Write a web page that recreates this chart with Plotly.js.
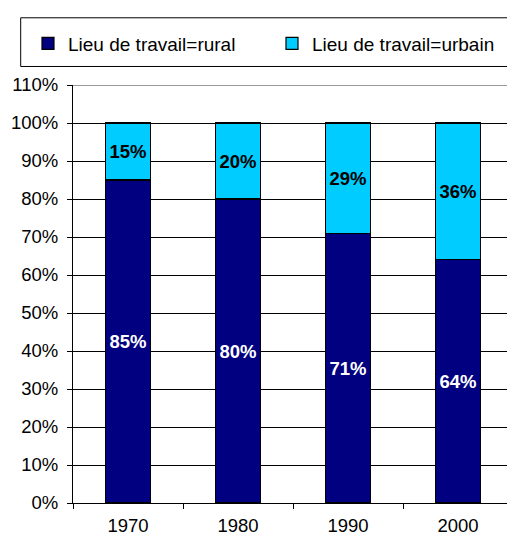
<!DOCTYPE html>
<html>
<head>
<meta charset="utf-8">
<script src="https://cdn.plot.ly/plotly-3.0.1.min.js"></script>
<style>
  html, body { margin: 0; padding: 0; background: #fff; }
  #chart { width: 507px; height: 536px; }
</style>
</head>
<body>
<div id="chart"></div>
<script>
const years = ['1970', '1980', '1990', '2000'];
const rural = [85, 80, 71, 64];
const urbain = [15, 20, 29, 36];
const ruralName = 'Lieu de travail=rural';
const urbainName = 'Lieu de travail=urbain';
const yTickVals = [0, 10, 20, 30, 40, 50, 60, 70, 80, 90, 100, 110];

const FONT = '"Liberation Sans", Arial, sans-serif';

const traces = [
  {
    type: 'bar', name: ruralName, x: years, y: rural,
    text: rural.map(v => v + '%'), textposition: 'inside', insidetextanchor: 'middle',
    textfont: { family: FONT, size: 18.5, color: '#ffffff', weight: 'bold' },
    marker: { color: '#000080', line: { color: '#000000', width: 1.2 } },
    legendwidth: 199,
    hoverinfo: 'skip'
  },
  {
    type: 'bar', name: urbainName, x: years, y: urbain,
    text: urbain.map(v => v + '%'), textposition: 'inside', insidetextanchor: 'middle',
    textfont: { family: FONT, size: 18.5, color: '#000000', weight: 'bold' },
    marker: { color: '#00CCFF', line: { color: '#000000', width: 1.2 } },
    legendwidth: 182,
    hoverinfo: 'skip'
  }
];

const layout = {
  width: 507, height: 536,
  margin: { l: 73, r: 0, t: 85, b: 33 },
  paper_bgcolor: '#ffffff', plot_bgcolor: '#ffffff',
  font: { family: FONT, size: 18.5, color: '#000000' },
  barmode: 'stack',
  bargap: 0.595,
  showlegend: true,
  legend: {
    orientation: 'h', x: -0.1037, xanchor: 'left', y: 1.099, yanchor: 'middle',
    font: { family: FONT, size: 19, color: '#000000' },
    entrywidthmode: 'pixels',
    bgcolor: 'rgba(0,0,0,0)', borderwidth: 0, traceorder: 'normal'
  },
  xaxis: {
    type: 'category', range: [-0.5, 3.445], fixedrange: true,
    showline: true, linecolor: '#000000', linewidth: 1,
    ticks: 'outside', tickson: 'boundaries', ticklen: 5, tickcolor: '#000000',
    ticklabelstandoff: 6,
    showgrid: false, zeroline: false,
    tickfont: { family: FONT, size: 18.5, color: '#000000' }
  },
  yaxis: {
    range: [0, 110], tickvals: yTickVals, ticktext: yTickVals.map(v => v + '%'),
    fixedrange: true,
    showline: true, linecolor: '#000000', linewidth: 1,
    ticks: 'outside', ticklen: 5, tickcolor: '#000000',
    ticklabelstandoff: 5,
    showgrid: true, gridcolor: '#000000', gridwidth: 1, zeroline: false,
    tickfont: { family: FONT, size: 18.5, color: '#000000' }
  },
  shapes: [
    { type: 'line', xref: 'paper', yref: 'y', x0: 0, x1: 1, y0: 110, y1: 110,
      line: { color: '#999999', width: 2 } },
    { type: 'rect', xref: 'paper', yref: 'paper', x0: -0.1205, x1: 1.05, y0: 1.0443, y1: 1.1608,
      line: { color: '#000000', width: 1 }, fillcolor: 'rgba(0,0,0,0)', layer: 'above' }
  ]
};

Plotly.newPlot('chart', traces, layout, { staticPlot: true, displayModeBar: false });
</script>
</body>
</html>
